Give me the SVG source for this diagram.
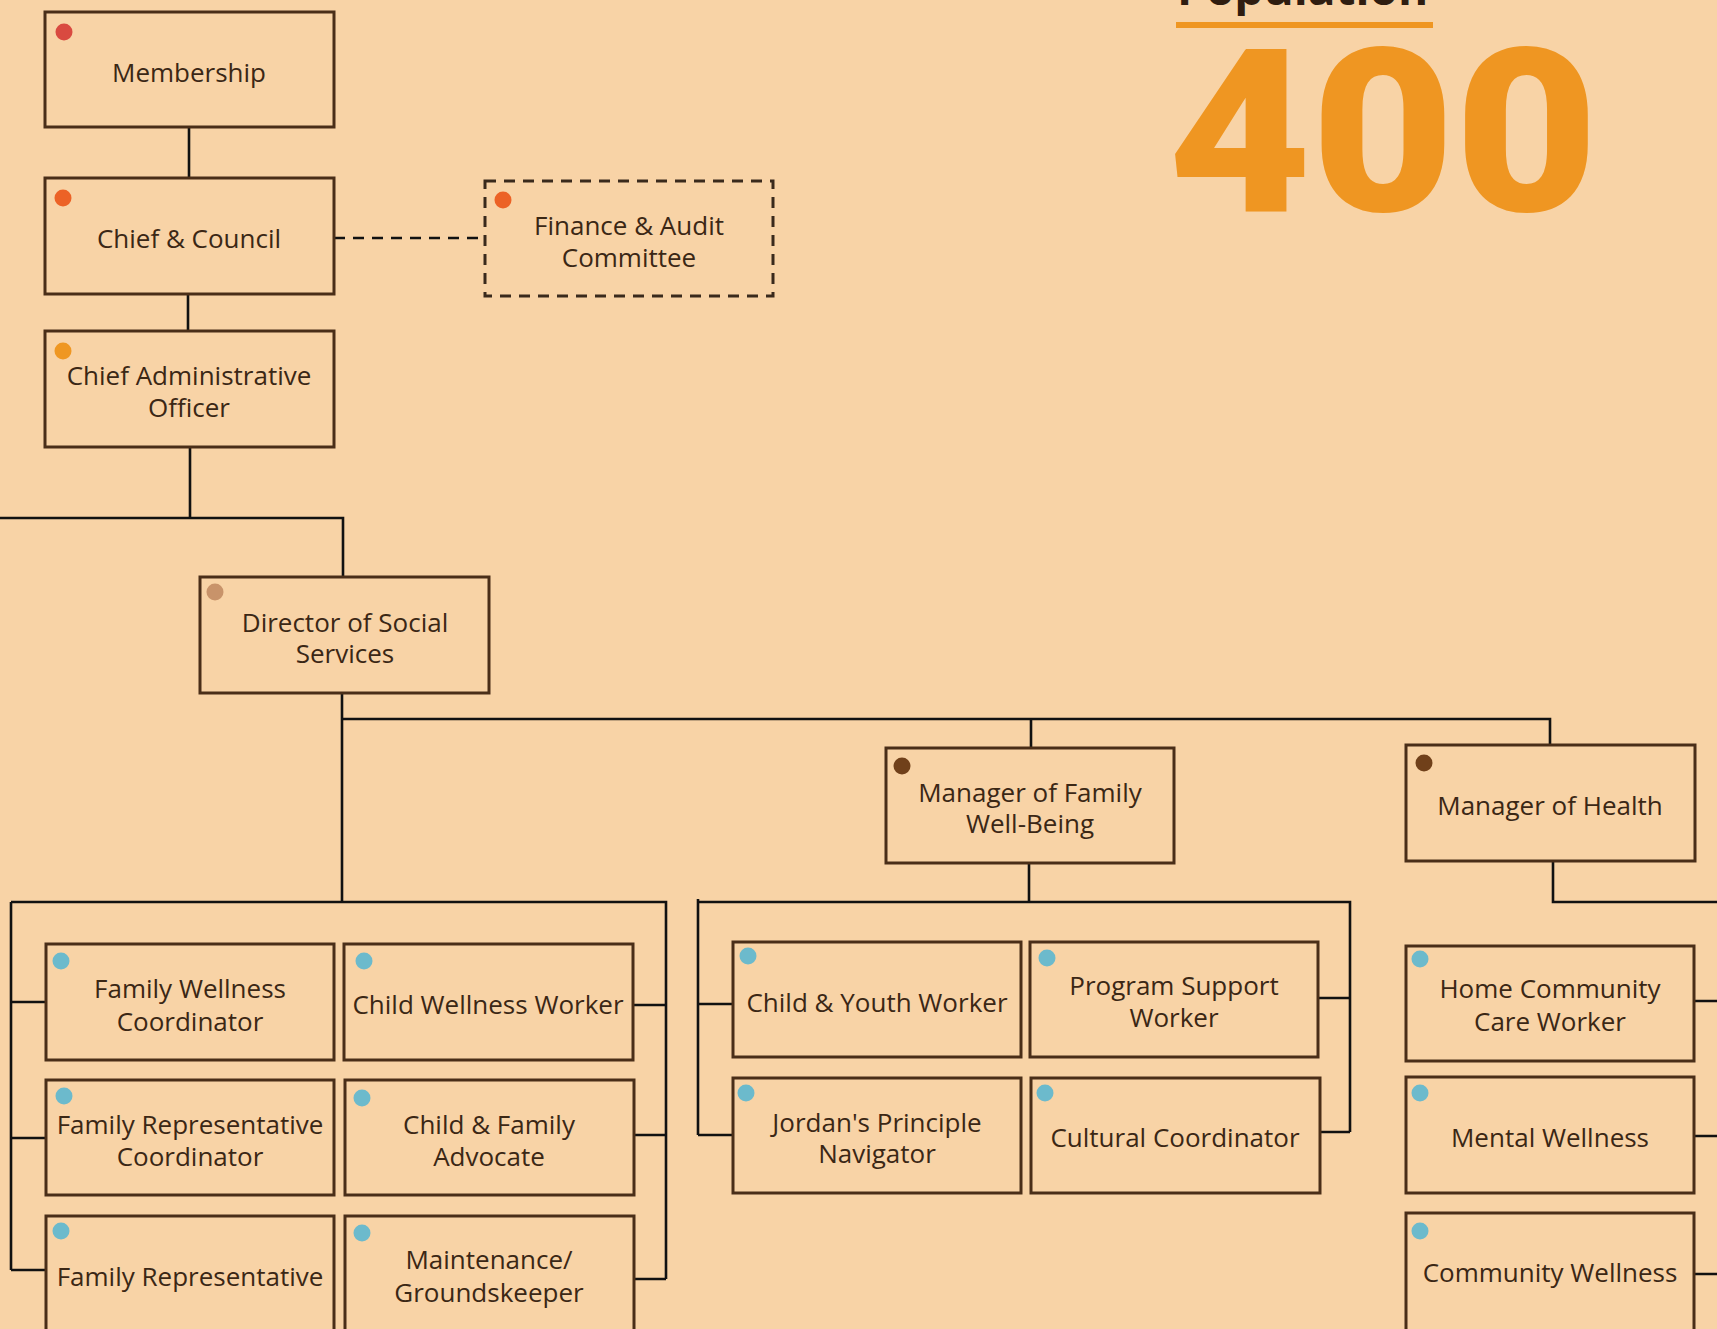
<svg xmlns="http://www.w3.org/2000/svg" width="1717" height="1329" viewBox="0 0 1717 1329">
  <style>
    .bg { fill: #f8d3a6; }
    .box { fill: #f8d3a6; stroke: #4a2e18; stroke-width: 3; }
    .box-dashed { fill: #f8d3a6; stroke: #3a2a1c; stroke-width: 3; stroke-dasharray: 11 8; }
    .lbl { font-family: "Open Sans", "Liberation Sans", sans-serif; font-size: 26px; fill: #3b2715; text-anchor: middle; }
    .wire { fill: none; stroke: #111111; stroke-width: 2.6; }
    .wire-dashed { fill: none; stroke: #111111; stroke-width: 2.6; stroke-dasharray: 11 8; }
    .dot-red { fill: #d94a40; }
    .dot-orange { fill: #ec6226; }
    .dot-amber { fill: #ef9722; }
    .dot-tan { fill: #c8936a; }
    .dot-brown { fill: #70401a; }
    .dot-blue { fill: #6cbacc; }
    .pop-title { font-family: "Open Sans", "Liberation Sans", sans-serif; font-weight: 700; font-size: 46px; fill: #2f1d10; }
    .pop-num { font-family: Roboto, "Liberation Sans", sans-serif; font-weight: 900; font-size: 229px; fill: #ef9622; text-anchor: middle; }
  </style>

  <rect class="bg" x="0" y="0" width="1717" height="1329"/>

  <!-- population banner -->
  <g id="population">
    <text class="pop-title" x="1177" y="5">Population</text>
    <rect x="1176" y="22" width="257" height="6" fill="#ef9622"/>
    <text class="pop-num" transform="translate(1383,211) scale(1.08,1)" x="0" y="0">400</text>
  </g>

  <!-- reporting lines -->
  <g id="connectors">
    <path class="wire" d="M189,127 V178"/>
    <path class="wire" d="M188,294 V331"/>
    <path class="wire" d="M190,447 V518 M0,518 H343 V577"/>
    <path class="wire-dashed" d="M334,238 H485"/>

    <path class="wire" d="M342,693 V902 M342,719 H1550 V745 M1031,719 V748"/>

    <!-- social services staff -->
    <path class="wire" d="M11,902 H666 V1279 M11,902 V1270"/>
    <path class="wire" d="M11,1002 H46 M11,1138 H46 M11,1270 H46"/>
    <path class="wire" d="M633,1005 H666 M634,1135 H666 M634,1279 H666"/>

    <!-- family well-being staff -->
    <path class="wire" d="M1029,863 V902 M698,899 V1135 M698,902 H1350 V1132"/>
    <path class="wire" d="M698,1004 H733 M698,1135 H733"/>
    <path class="wire" d="M1318,998 H1350 M1320,1132 H1350"/>

    <!-- health staff -->
    <path class="wire" d="M1553,861 V902 H1717"/>
    <path class="wire" d="M1694,1001 H1717 M1694,1136 H1717 M1694,1274 H1717"/>
  </g>

  <g id="membership">
    <rect class="box" x="45" y="12" width="289" height="115"/>
    <circle class="dot-red" cx="64" cy="32" r="8.5"/>
    <text class="lbl" x="189" y="82">Membership</text>
  </g>

  <g id="chief-council">
    <rect class="box" x="45" y="178" width="289" height="116"/>
    <circle class="dot-orange" cx="63" cy="198" r="8.5"/>
    <text class="lbl" x="189" y="248">Chief &amp; Council</text>
  </g>

  <g id="finance-audit">
    <rect class="box-dashed" x="485" y="181" width="288" height="115"/>
    <circle class="dot-orange" cx="503" cy="200" r="8.5"/>
    <text class="lbl" x="629" y="235">Finance &amp; Audit<tspan x="629" dy="32">Committee</tspan></text>
  </g>

  <g id="cao">
    <rect class="box" x="45" y="331" width="289" height="116"/>
    <circle class="dot-amber" cx="63" cy="351" r="8.5"/>
    <text class="lbl" x="189" y="385">Chief Administrative<tspan x="189" dy="32">Officer</tspan></text>
  </g>

  <g id="director-social">
    <rect class="box" x="200" y="577" width="289" height="116"/>
    <circle class="dot-tan" cx="215" cy="592" r="8.5"/>
    <text class="lbl" x="345" y="632">Director of Social<tspan x="345" dy="31">Services</tspan></text>
  </g>

  <g id="manager-family">
    <rect class="box" x="886" y="748" width="288" height="115"/>
    <circle class="dot-brown" cx="902" cy="766" r="8.5"/>
    <text class="lbl" x="1030" y="802">Manager of Family<tspan x="1030" dy="31">Well-Being</tspan></text>
  </g>

  <g id="manager-health">
    <rect class="box" x="1406" y="745" width="289" height="116"/>
    <circle class="dot-brown" cx="1424" cy="763" r="8.5"/>
    <text class="lbl" x="1550" y="815">Manager of Health</text>
  </g>

  <g id="family-wellness-coordinator">
    <rect class="box" x="46" y="944" width="288" height="116"/>
    <circle class="dot-blue" cx="61" cy="961" r="8.5"/>
    <text class="lbl" x="190" y="998">Family Wellness<tspan x="190" dy="33">Coordinator</tspan></text>
  </g>

  <g id="child-wellness-worker">
    <rect class="box" x="344" y="944" width="289" height="116"/>
    <circle class="dot-blue" cx="364" cy="961" r="8.5"/>
    <text class="lbl" x="488" y="1014">Child Wellness Worker</text>
  </g>

  <g id="family-rep-coordinator">
    <rect class="box" x="46" y="1080" width="288" height="115"/>
    <circle class="dot-blue" cx="64" cy="1096" r="8.5"/>
    <text class="lbl" x="190" y="1134">Family Representative<tspan x="190" dy="32">Coordinator</tspan></text>
  </g>

  <g id="child-family-advocate">
    <rect class="box" x="345" y="1080" width="289" height="115"/>
    <circle class="dot-blue" cx="362" cy="1098" r="8.5"/>
    <text class="lbl" x="489" y="1134">Child &amp; Family<tspan x="489" dy="32">Advocate</tspan></text>
  </g>

  <g id="family-representative">
    <rect class="box" x="46" y="1216" width="288" height="118"/>
    <circle class="dot-blue" cx="61" cy="1231" r="8.5"/>
    <text class="lbl" x="190" y="1286">Family Representative</text>
  </g>

  <g id="maintenance">
    <rect class="box" x="345" y="1216" width="289" height="118"/>
    <circle class="dot-blue" cx="362" cy="1233" r="8.5"/>
    <text class="lbl" x="489" y="1269">Maintenance/<tspan x="489" dy="33">Groundskeeper</tspan></text>
  </g>

  <g id="child-youth-worker">
    <rect class="box" x="733" y="942" width="288" height="115"/>
    <circle class="dot-blue" cx="748" cy="956" r="8.5"/>
    <text class="lbl" x="877" y="1012">Child &amp; Youth Worker</text>
  </g>

  <g id="program-support-worker">
    <rect class="box" x="1030" y="942" width="288" height="115"/>
    <circle class="dot-blue" cx="1047" cy="958" r="8.5"/>
    <text class="lbl" x="1174" y="995">Program Support<tspan x="1174" dy="32">Worker</tspan></text>
  </g>

  <g id="jordans-principle">
    <rect class="box" x="733" y="1078" width="288" height="115"/>
    <circle class="dot-blue" cx="746" cy="1093" r="8.5"/>
    <text class="lbl" x="877" y="1132">Jordan's Principle<tspan x="877" dy="31">Navigator</tspan></text>
  </g>

  <g id="cultural-coordinator">
    <rect class="box" x="1031" y="1078" width="289" height="115"/>
    <circle class="dot-blue" cx="1045" cy="1093" r="8.5"/>
    <text class="lbl" x="1175" y="1147">Cultural Coordinator</text>
  </g>

  <g id="home-community-care">
    <rect class="box" x="1406" y="946" width="288" height="115"/>
    <circle class="dot-blue" cx="1420" cy="959" r="8.5"/>
    <text class="lbl" x="1550" y="998">Home Community<tspan x="1550" dy="33">Care Worker</tspan></text>
  </g>

  <g id="mental-wellness">
    <rect class="box" x="1406" y="1077" width="288" height="116"/>
    <circle class="dot-blue" cx="1420" cy="1093" r="8.5"/>
    <text class="lbl" x="1550" y="1147">Mental Wellness</text>
  </g>

  <g id="community-wellness">
    <rect class="box" x="1406" y="1213" width="288" height="121"/>
    <circle class="dot-blue" cx="1420" cy="1231" r="8.5"/>
    <text class="lbl" x="1550" y="1282">Community Wellness</text>
  </g>
</svg>
